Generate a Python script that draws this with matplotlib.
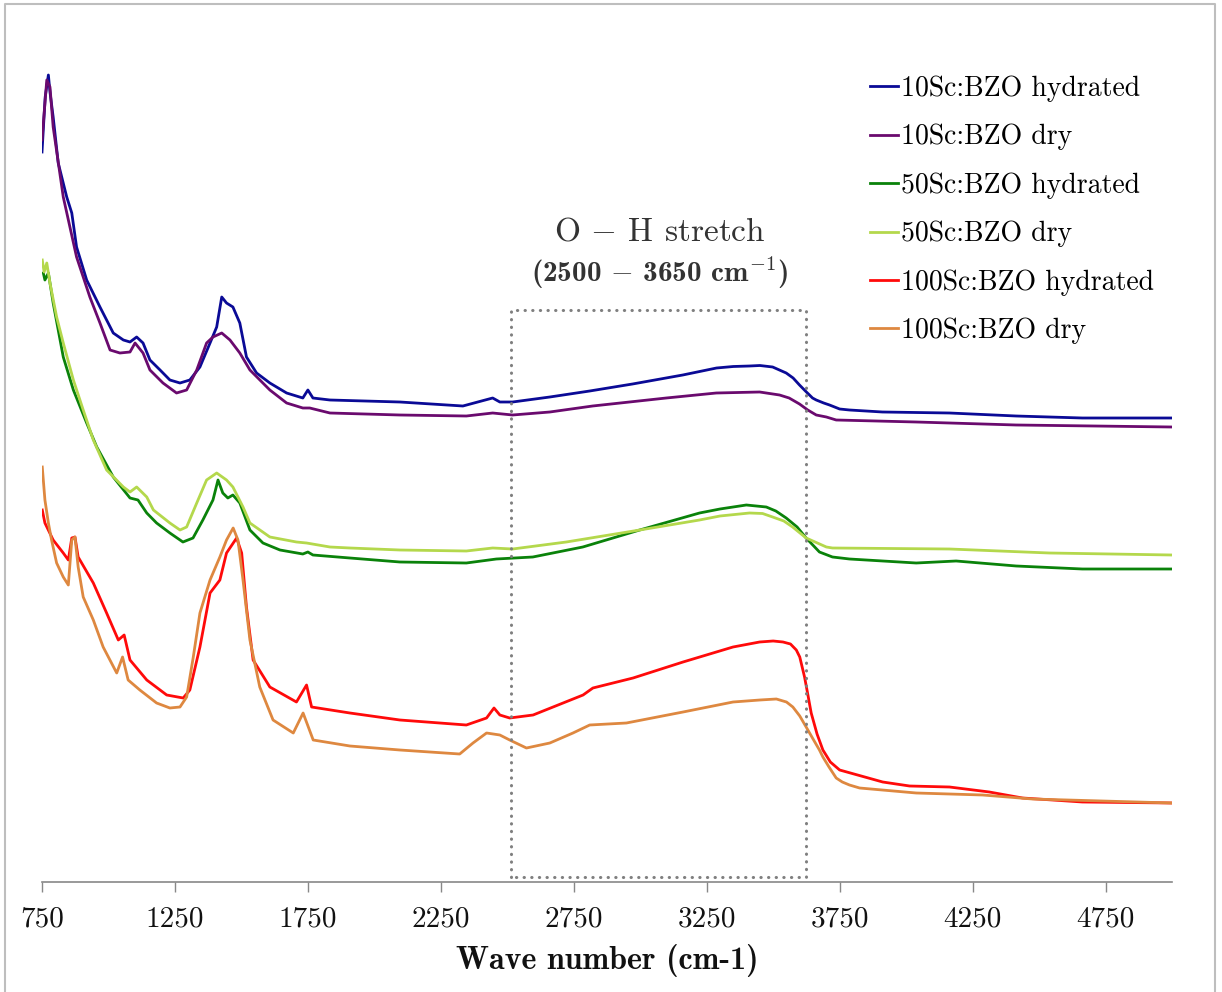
import matplotlib
matplotlib.use("Agg")
import matplotlib.pyplot as plt
from matplotlib.lines import Line2D

plt.rcParams['font.family'] = ['cmr10', 'DejaVu Serif']
plt.rcParams['mathtext.fontset'] = 'cm'
plt.rcParams['axes.unicode_minus'] = False

# ---- data: wave number (cm-1) and absorbance (a.u.) ----
sc10_hyd_x = [750, 762, 774, 780, 792, 811, 843, 862, 880, 918, 968, 1018, 1056, 1081, 1106, 1130, 1156, 1194,
              1231, 1269, 1306, 1344, 1382, 1407, 1426, 1444, 1468, 1494, 1519, 1557, 1607, 1670, 1731, 1750,
              1769, 1833, 2096, 2333, 2445, 2472, 2520, 2660, 2810, 2971, 3160, 3287, 3350, 3411, 3450, 3498,
              3549, 3575, 3599, 3625, 3648, 3662, 3690, 3712, 3750, 3787, 3911, 4163, 4414, 4663, 5000]
sc10_hyd_y = [7.30, 7.85, 8.07, 7.90, 7.65, 7.19, 6.85, 6.69, 6.35, 6.02, 5.75, 5.49, 5.42, 5.40, 5.45, 5.39, 5.22, 5.12,
              5.02, 4.99, 5.02, 5.15, 5.39, 5.55, 5.85, 5.79, 5.75, 5.59, 5.25, 5.09, 4.99, 4.89, 4.84, 4.92,
              4.84, 4.82, 4.80, 4.76, 4.84, 4.80, 4.80, 4.85, 4.91, 4.98, 5.07, 5.14, 5.155, 5.16, 5.165, 5.15,
              5.09, 5.04, 4.97, 4.90, 4.84, 4.82, 4.79, 4.77, 4.73, 4.72, 4.70, 4.69, 4.66, 4.64, 4.64]

sc10_dry_x = [750, 768, 780, 792, 830, 880, 930, 968, 1006, 1043, 1081, 1100, 1130, 1156, 1205, 1256, 1294, 1332,
              1369, 1393, 1426, 1457, 1494, 1532, 1607, 1670, 1731, 1757, 1833, 2096, 2346, 2445, 2520, 2660,
              2821, 3098, 3286, 3449, 3524, 3560, 3599, 3630, 3662, 3700, 3737, 4038, 4414, 5000]
sc10_dry_y = [7.42, 8.02, 7.95, 7.55, 6.85, 6.25, 5.85, 5.59, 5.32, 5.29, 5.30, 5.39, 5.29, 5.12, 4.99, 4.89, 4.92, 5.12,
              5.39, 5.45, 5.49, 5.42, 5.29, 5.12, 4.92, 4.79, 4.74, 4.74, 4.69, 4.67, 4.66, 4.69, 4.67, 4.70,
              4.76, 4.84, 4.89, 4.90, 4.87, 4.84, 4.78, 4.72, 4.67, 4.65, 4.62, 4.60, 4.57, 4.55]

sc50_hyd_x = [755, 761, 774, 792, 830, 868, 918, 956, 1018, 1081, 1111, 1144, 1181, 1231, 1280, 1318, 1355, 1393,
              1412, 1430, 1449, 1468, 1494, 1532, 1581, 1645, 1731, 1750, 1769, 1908, 2096, 2346, 2459, 2596,
              2784, 2998, 3223, 3300, 3399, 3474, 3510, 3549, 3590, 3624, 3674, 3723, 3787, 4038, 4188, 4414,
              4663, 5000]
sc50_hyd_y = [6.09, 6.02, 6.09, 5.79, 5.25, 4.92, 4.59, 4.35, 4.05, 3.84, 3.82, 3.69, 3.59, 3.49, 3.40, 3.44, 3.62, 3.82,
              4.02, 3.89, 3.84, 3.87, 3.79, 3.52, 3.39, 3.32, 3.28, 3.30, 3.27, 3.24, 3.20, 3.19, 3.23, 3.25,
              3.35, 3.52, 3.69, 3.73, 3.77, 3.75, 3.71, 3.64, 3.55, 3.44, 3.30, 3.25, 3.23, 3.19, 3.21, 3.16,
              3.13, 3.13]

sc50_dry_x = [751, 758, 768, 780, 805, 830, 868, 905, 943, 993, 1056, 1081, 1106, 1144, 1169, 1231, 1269, 1294,
              1332, 1369, 1407, 1444, 1468, 1506, 1532, 1607, 1707, 1745, 1833, 1908, 2096, 2346, 2445, 2520,
              2722, 2998, 3223, 3300, 3411, 3460, 3498, 3540, 3573, 3624, 3700, 3723, 4163, 4539, 5000]
sc50_dry_y = [6.22, 6.10, 6.19, 5.99, 5.65, 5.39, 5.02, 4.72, 4.42, 4.12, 3.95, 3.90, 3.95, 3.85, 3.72, 3.59, 3.52, 3.55,
              3.79, 4.02, 4.09, 4.02, 3.95, 3.75, 3.59, 3.45, 3.40, 3.39, 3.35, 3.34, 3.32, 3.31, 3.34, 3.33,
              3.40, 3.52, 3.62, 3.66, 3.69, 3.685, 3.65, 3.61, 3.55, 3.44, 3.35, 3.34, 3.33, 3.29, 3.27]

sc100_hyd_x = [751, 761, 792, 830, 849, 862, 874, 886, 943, 993, 1037, 1059, 1081, 1144, 1219, 1281, 1306, 1344,
               1382, 1419, 1444, 1482, 1501, 1519, 1544, 1607, 1707, 1745, 1764, 1908, 2096, 2346, 2422, 2450,
               2472, 2509, 2597, 2785, 2822, 2973, 3161, 3349, 3449, 3500, 3537, 3565, 3587, 3600, 3618, 3630,
               3643, 3665, 3687, 3715, 3750, 3912, 4013, 4163, 4313, 4438, 4663, 5000]
sc100_hyd_y = [3.72, 3.59, 3.42, 3.29, 3.22, 3.44, 3.45, 3.25, 2.99, 2.69, 2.42, 2.47, 2.22, 2.02, 1.87, 1.84, 1.92, 2.35,
               2.89, 3.02, 3.29, 3.44, 3.29, 2.75, 2.22, 1.95, 1.80, 1.97, 1.75, 1.69, 1.62, 1.57, 1.64, 1.74,
               1.67, 1.64, 1.67, 1.87, 1.94, 2.04, 2.20, 2.35, 2.40, 2.41, 2.40, 2.38, 2.32, 2.25, 2.05, 1.88,
               1.69, 1.48, 1.32, 1.20, 1.12, 1.00, 0.96, 0.95, 0.90, 0.84, 0.80, 0.79]

sc100_dry_x = [751, 761, 774, 786, 805, 830, 849, 862, 874, 886, 905, 943, 980, 1031, 1053, 1074, 1118, 1181, 1231,
               1269, 1294, 1319, 1344, 1382, 1419, 1444, 1469, 1487, 1506, 1532, 1569, 1619, 1695, 1732, 1770,
               1908, 2096, 2321, 2371, 2422, 2472, 2509, 2572, 2660, 2747, 2810, 2948, 3161, 3349, 3450, 3512,
               3550, 3574, 3600, 3624, 3650, 3674, 3687, 3710, 3737, 3760, 3787, 3825, 4038, 4288, 4475, 5000]
sc100_dry_y = [4.15, 3.82, 3.59, 3.42, 3.19, 3.05, 2.97, 3.42, 3.45, 3.15, 2.85, 2.62, 2.35, 2.09, 2.25, 2.02, 1.92, 1.79, 1.74,
               1.75, 1.85, 2.25, 2.69, 3.02, 3.25, 3.42, 3.54, 3.42, 3.02, 2.42, 1.95, 1.62, 1.49, 1.69, 1.42,
               1.36, 1.32, 1.28, 1.39, 1.49, 1.47, 1.42, 1.34, 1.39, 1.49, 1.57, 1.59, 1.70, 1.80, 1.82, 1.83,
               1.80, 1.75, 1.66, 1.55, 1.43, 1.32, 1.25, 1.15, 1.04, 1.00, 0.97, 0.94, 0.89, 0.87, 0.83, 0.79]

series = [
    ("10Sc:BZO hydrated", sc10_hyd_x, sc10_hyd_y, "#0A0A96"),
    ("10Sc:BZO dry", sc10_dry_x, sc10_dry_y, "#6A0A6E"),
    ("50Sc:BZO hydrated", sc50_hyd_x, sc50_hyd_y, "#0A820A"),
    ("50Sc:BZO dry", sc50_dry_x, sc50_dry_y, "#B4D84C"),
    ("100Sc:BZO hydrated", sc100_hyd_x, sc100_hyd_y, "#FF0A0A"),
    ("100Sc:BZO dry", sc100_dry_x, sc100_dry_y, "#DE8840"),
]

xticks = [750, 1250, 1750, 2250, 2750, 3250, 3750, 4250, 4750]
oh_region = (2515, 3625)

W, H = 1222, 992
fig = plt.figure(figsize=(W / 100, H / 100), dpi=100)
ax = fig.add_axes([42 / W, 110 / H, 1130 / W, 822 / H])

for label, xs, ys, c in series:
    ax.plot(xs, ys, color=c, lw=2.0, label=label, solid_joinstyle='round')

# dotted box marking the O-H stretch region
bx0, bx1 = oh_region
ax.plot([bx0, bx0, bx1, bx1, bx0], [0.05, 5.72, 5.72, 0.05, 0.05], color='#7F7F7F', lw=2.2,
        linestyle=(0, (0.1, 2.4)), dash_capstyle='round')

ax.text(3073, 6.50, "O $-$ H stretch", ha='center', va='center', fontsize=24, color='#333333')
ax.text(3073, 6.09, "(2500 $-$ 3650 cm$^{-1}$)", ha='center', va='center', fontsize=21,
        fontfamily='cmb10', color='#333333')

ax.set_xlim(750, 5000)
ax.set_ylim(0, 8.22)
ax.set_xticks(xticks)
ax.set_xticklabels([str(t) for t in xticks])
ax.set_yticks([])
for s in ['top', 'right', 'left']:
    ax.spines[s].set_visible(False)
ax.spines['bottom'].set_color('#888888')
ax.spines['bottom'].set_linewidth(1.2)
ax.tick_params(axis='x', direction='out', length=7, width=1, color='#888888', pad=10.5, labelsize=21,
               labelcolor='#111111')
ax.set_xlabel("Wave number (cm-1)", fontfamily='cmb10', fontsize=23, labelpad=8, color='#111111')

ax.legend(loc='upper left', bbox_to_anchor=(870 / W, 1 - 75.5 / H), bbox_transform=fig.transFigure,
          frameon=False, fontsize=20, handlelength=1.0, handletextpad=0.1, labelspacing=0.79,
          borderpad=0, borderaxespad=0)

# figure border
fig.add_artist(Line2D([5 / W, 5 / W, 1214.5 / W, 1214.5 / W], [-0.01, 1 - 4 / H, 1 - 4 / H, -0.01],
                      transform=fig.transFigure, color='#BEBEBE', lw=1.5))

fig.savefig("out.png", dpi=100)
